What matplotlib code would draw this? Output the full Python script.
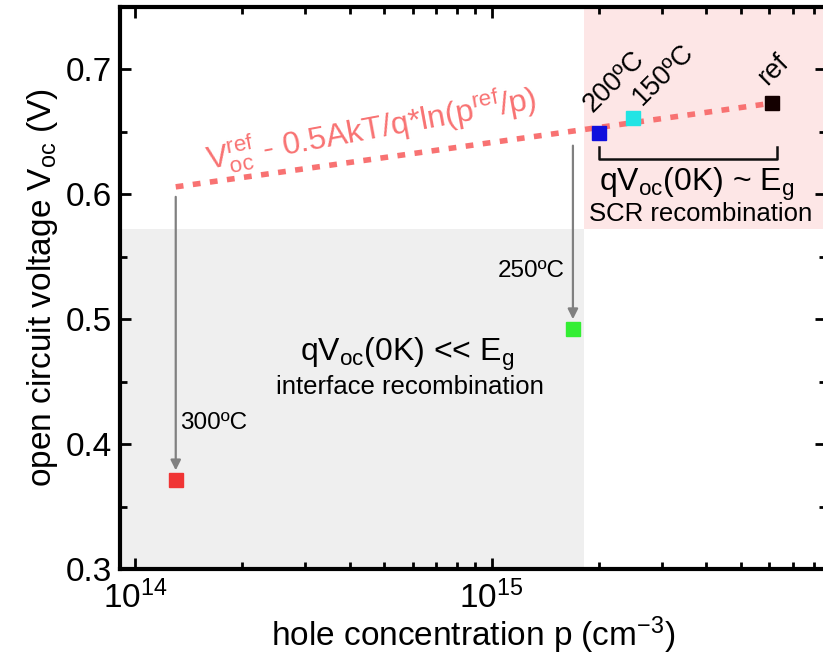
import matplotlib
matplotlib.use("Agg")
import matplotlib.pyplot as plt
from matplotlib.ticker import LogLocator, MultipleLocator, NullFormatter

plt.rcParams['font.family'] = ['Liberation Sans', 'DejaVu Sans']
plt.rcParams['mathtext.default'] = 'regular'

# data
labels = ['300ºC', '250ºC', '200ºC', '150ºC', 'ref']
p_vals = [1.3e14, 1.69e15, 2.0e15, 2.49e15, 6.1e15]
voc_vals = [0.371, 0.492, 0.649, 0.661, 0.673]
colors = ['#f03434', '#33ee33', '#1010dd', '#22e4e4', '#140000']

# model line endpoints
line_p = [1.3e14, 6.1e15]
line_v = [0.606, 0.673]

# arrows (start voltage on model line -> measured)
arrow_p = [1.3e14, 1.69e15]
arrow_v0 = [0.598, 0.639]
arrow_v1 = [0.379, 0.500]

# regions
region_split_p = 1.82e15
region_split_v = 0.572

fig = plt.figure(figsize=(8.23, 6.56), dpi=100)
ax = fig.add_axes([0.1458, 0.1326, 0.858, 0.8567])
xlim = (9.07e13, 8.67e15)
ylim = (0.3, 0.75)
ax.set_xscale('log')
ax.set_xlim(*xlim)
ax.set_ylim(*ylim)

ax.axvspan(xlim[0], region_split_p, ymin=0, ymax=(region_split_v - ylim[0]) / (ylim[1] - ylim[0]),
           color='#efefef', lw=0, zorder=0)
ax.axvspan(region_split_p, xlim[1], ymin=(region_split_v - ylim[0]) / (ylim[1] - ylim[0]), ymax=1,
           color='#fde6e6', lw=0, zorder=0)

ax.plot(line_p, line_v, color='#f87272', lw=4, linestyle=(0, (1.4, 1.7)), zorder=2)

for x, y0, y1 in zip(arrow_p, arrow_v0, arrow_v1):
    ax.annotate('', xy=(x, y1), xytext=(x, y0),
                arrowprops=dict(arrowstyle='-|>', color='#808080', lw=1.6,
                                mutation_scale=15, shrinkA=0, shrinkB=0), zorder=2)

for x, y, c in zip(p_vals, voc_vals, colors):
    ax.plot([x], [y], marker='s', color=c, markersize=10, linestyle='none', zorder=3)

# bracket
bx0, bx1 = 2.0e15, 6.3e15
ax.plot([bx0, bx0, bx1, bx1], [0.638, 0.628, 0.628, 0.638], color='#101010', lw=1.8, zorder=3)

# texts
ax.text(4.6e14, 0.652, r'$V_{oc}^{ref}$ - 0.5AkT/q*ln(p$^{ref}$/p)', color='#f87272',
        fontsize=23, rotation=10.5, ha='center', va='center')
ax.text(1.97e15, 0.662, '200ºC', fontsize=19.5, rotation=45, ha='left', va='bottom', rotation_mode='anchor')
ax.text(2.72e15, 0.667, '150ºC', fontsize=19.5, rotation=45, ha='left', va='bottom', rotation_mode='anchor')
ax.text(6.1e15, 0.683, 'ref', fontsize=19.5, rotation=45, ha='left', va='bottom', rotation_mode='anchor')
ax.text(3.75e15, 0.608, r'qV$_{oc}$(0K) ~ E$_g$', fontsize=23, ha='center', va='center')
ax.text(3.85e15, 0.584, 'SCR recombination', fontsize=18.5, ha='center', va='center')
ax.text(1.29e15, 0.539, '250ºC', fontsize=17.5, ha='center', va='center')
ax.text(1.335e14, 0.417, '300ºC', fontsize=17.5, ha='left', va='center')
ax.text(5.8e14, 0.472, r'qV$_{oc}$(0K) << E$_g$', fontsize=23, ha='center', va='center')
ax.text(5.9e14, 0.446, 'interface recombination', fontsize=18.5, ha='center', va='center')

ax.set_xlabel('hole concentration p (cm$^{-3}$)', fontsize=24, labelpad=0)
ax.set_ylabel('open circuit voltage V$_{oc}$ (V)', fontsize=24, labelpad=4)

ax.xaxis.set_major_locator(LogLocator(base=10, numticks=10))
ax.xaxis.set_minor_locator(LogLocator(base=10, subs=range(2, 10), numticks=20))
ax.xaxis.set_minor_formatter(NullFormatter())
ax.yaxis.set_major_locator(MultipleLocator(0.1))
ax.yaxis.set_minor_locator(MultipleLocator(0.05))
ax.tick_params(which='both', direction='in', top=True, right=True, width=2, labelsize=24)
ax.tick_params(which='major', length=8)
ax.tick_params(which='minor', length=5)
ax.tick_params(axis='x', pad=8)
ax.tick_params(axis='y', pad=6)
for s in ax.spines.values():
    s.set_linewidth(3)

fig.savefig('out.png', dpi=100)
